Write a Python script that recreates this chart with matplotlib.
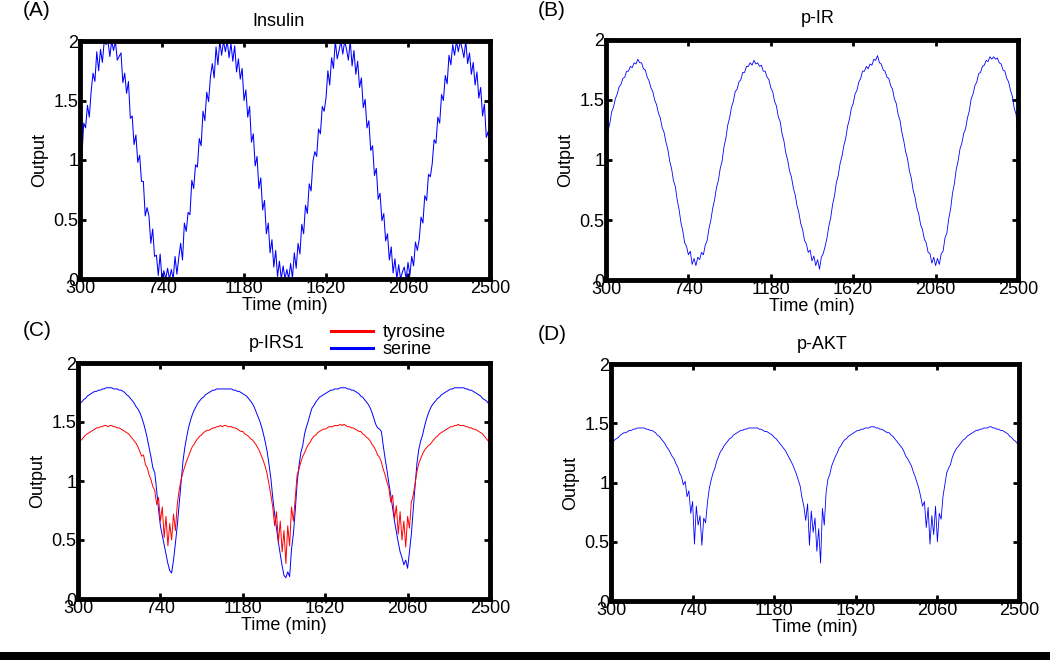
import numpy as np
import matplotlib
matplotlib.use('Agg')
import matplotlib.pyplot as plt
from matplotlib.patches import Rectangle

plt.rcParams['font.family'] = ['Liberation Sans', 'DejaVu Sans']

# simulated outputs, sampled every 10 min from 300 to 2500 min
insulin = [
    1.05, 1.02, 1.31, 1.27, 1.46, 1.36, 1.58, 1.73, 1.66, 1.91,
    1.75, 1.93, 1.82, 2.00, 1.97, 2.00, 1.87, 2.00, 1.92, 2.00,
    1.84, 1.87, 1.90, 1.65, 1.73, 1.56, 1.66, 1.35, 1.37, 1.13,
    1.21, 0.98, 1.04, 0.82, 0.82, 0.53, 0.60, 0.53, 0.30, 0.42,
    0.19, 0.20, 0.03, 0.21, 0.00, 0.07, 0.00, 0.09, 0.00, 0.08,
    0.00, 0.19, 0.04, 0.18, 0.30, 0.16, 0.47, 0.40, 0.56, 0.54,
    0.83, 0.76, 0.96,
    0.94, 1.18, 1.12, 1.41, 1.33, 1.57, 1.49, 1.70, 1.81, 1.69,
    1.95, 1.80, 2.00, 1.88, 2.00, 1.91, 2.00, 1.86, 1.98, 1.83,
    1.96, 1.74, 1.85, 1.68, 1.77, 1.50, 1.59, 1.36, 1.45, 1.15,
    1.22, 0.95, 1.03, 0.76, 0.85, 0.58, 0.66, 0.38, 0.47, 0.22,
    0.33, 0.10, 0.24, 0.02, 0.15, 0.00, 0.11, 0.00, 0.08, 0.00,
    0.13, 0.01, 0.22, 0.09, 0.30, 0.21, 0.46, 0.38, 0.62, 0.55,
    0.80, 0.74, 0.99,
    1.07, 1.03, 1.26, 1.22, 1.45, 1.41, 1.52, 1.75, 1.63, 1.86,
    1.77, 2.00, 1.85, 1.92, 2.00, 1.89, 2.00, 1.93, 1.84, 2.00,
    1.79, 1.92, 1.72, 1.83, 1.61, 1.69, 1.44, 1.51, 1.27, 1.33,
    1.08, 1.12, 0.87, 0.93, 0.67, 0.72, 0.49, 0.55, 0.32, 0.38,
    0.16, 0.27, 0.05, 0.17, 0.00, 0.12, 0.00, 0.06, 0.10, 0.00,
    0.14, 0.03, 0.19, 0.11, 0.31, 0.24, 0.33, 0.52, 0.47, 0.70,
    0.66, 0.88, 0.86,
    0.97, 1.17, 1.14, 1.36, 1.31, 1.55, 1.50, 1.71, 1.64, 1.88,
    1.80, 1.97, 1.88, 2.00, 1.91, 2.00, 1.94, 1.86, 2.00, 1.81,
    1.90, 1.72, 1.82, 1.63, 1.74, 1.52, 1.61, 1.37, 1.47, 1.19,
    1.24, 0.96,
]

p_ir = [
    1.18, 1.24, 1.30, 1.40, 1.44, 1.51, 1.55, 1.61, 1.63, 1.68,
    1.69, 1.74, 1.74, 1.78, 1.77, 1.81, 1.80, 1.84, 1.81, 1.81,
    1.76, 1.75, 1.69, 1.66, 1.60, 1.57, 1.50, 1.46, 1.39, 1.35,
    1.27, 1.23, 1.15, 1.09, 0.99, 0.93, 0.83, 0.78, 0.67, 0.59,
    0.48, 0.41, 0.31, 0.28, 0.21, 0.24, 0.13, 0.18, 0.12, 0.19,
    0.17, 0.23, 0.21, 0.29, 0.33, 0.43, 0.50, 0.60, 0.67, 0.77,
    0.83, 0.93, 0.99, 1.11, 1.18, 1.29, 1.35, 1.44, 1.49, 1.57,
    1.59, 1.65, 1.67, 1.73, 1.73, 1.78, 1.78, 1.81, 1.79, 1.83,
    1.80, 1.81, 1.78, 1.79, 1.74, 1.74, 1.69, 1.67, 1.60, 1.57,
    1.49, 1.45, 1.36, 1.32, 1.22, 1.16, 1.06, 1.00, 0.91, 0.86,
    0.77, 0.71, 0.62, 0.56, 0.47, 0.42, 0.33, 0.30, 0.23, 0.25,
    0.16, 0.20, 0.12, 0.17, 0.09, 0.19, 0.22, 0.28, 0.35, 0.45,
    0.52, 0.63, 0.70, 0.81, 0.87, 0.97, 1.03, 1.12, 1.18, 1.28,
    1.34, 1.43, 1.47, 1.55, 1.58, 1.65, 1.68, 1.74, 1.74, 1.78,
    1.76, 1.80, 1.79, 1.84, 1.83, 1.87, 1.81, 1.80, 1.75, 1.74,
    1.69, 1.68, 1.62, 1.59, 1.51, 1.47, 1.38, 1.33, 1.23, 1.16,
    1.07, 1.01, 0.91, 0.85, 0.75, 0.69, 0.60, 0.55, 0.46, 0.42,
    0.34, 0.31, 0.23, 0.22, 0.14, 0.19, 0.12, 0.18, 0.13, 0.22,
    0.24, 0.35, 0.39, 0.51, 0.59, 0.72, 0.80, 0.92, 0.99, 1.09,
    1.14, 1.22, 1.26, 1.35, 1.41, 1.51, 1.55, 1.62, 1.65, 1.72,
    1.73, 1.78, 1.79, 1.83, 1.82, 1.86, 1.84, 1.86, 1.84, 1.85,
    1.81, 1.80, 1.75, 1.74, 1.68, 1.65, 1.58, 1.53, 1.43, 1.38,
    1.17,
]

irs1_serine = [
    1.64, 1.66, 1.67, 1.69, 1.70, 1.72, 1.73, 1.74, 1.75, 1.76,
    1.76, 1.77, 1.77, 1.78, 1.78, 1.79, 1.79, 1.79, 1.79, 1.78,
    1.78, 1.78, 1.77, 1.77, 1.76, 1.75, 1.73, 1.72, 1.70, 1.68,
    1.66, 1.63, 1.61, 1.58, 1.54, 1.49, 1.43, 1.36, 1.28, 1.20,
    1.11, 1.07, 0.92, 0.76, 0.62, 0.54, 0.46, 0.38, 0.30, 0.24,
    0.22, 0.33, 0.47, 0.62, 0.80, 0.99, 1.16, 1.28, 1.37, 1.45,
    1.51, 1.56, 1.60, 1.63, 1.66, 1.68, 1.70, 1.71, 1.73, 1.74,
    1.75, 1.76, 1.77, 1.77, 1.78, 1.78, 1.78, 1.78, 1.78, 1.78,
    1.78, 1.78, 1.78, 1.77, 1.77, 1.76, 1.76, 1.75, 1.74, 1.73,
    1.72, 1.70, 1.68, 1.66, 1.63, 1.59, 1.55, 1.51, 1.46, 1.40,
    1.33, 1.25, 1.14, 1.02, 0.86, 0.72, 0.60, 0.48, 0.38, 0.28,
    0.20, 0.18, 0.23, 0.19, 0.42, 0.55, 0.75, 0.98, 1.13, 1.24,
    1.30, 1.40, 1.46, 1.51, 1.57, 1.62, 1.64, 1.67, 1.69, 1.71,
    1.72, 1.73, 1.74, 1.75, 1.76, 1.77, 1.77, 1.78, 1.78, 1.78,
    1.79, 1.79, 1.79, 1.79, 1.78, 1.78, 1.77, 1.77, 1.76, 1.75,
    1.74, 1.72, 1.71, 1.69, 1.67, 1.65, 1.62, 1.58, 1.53, 1.48,
    1.45, 1.44, 1.42, 1.30, 1.19, 1.09, 0.98, 0.88, 0.77, 0.66,
    0.57, 0.48, 0.40, 0.35, 0.29, 0.33, 0.26, 0.40, 0.55, 0.76,
    0.96, 1.15, 1.27, 1.34, 1.39, 1.46, 1.52, 1.57, 1.61, 1.64,
    1.66, 1.68, 1.70, 1.71, 1.73, 1.74, 1.75, 1.76, 1.77, 1.78,
    1.78, 1.79, 1.79, 1.79, 1.79, 1.79, 1.79, 1.78, 1.78, 1.77,
    1.77, 1.76, 1.75, 1.74, 1.73, 1.72, 1.70, 1.69, 1.68, 1.66,
    1.64,
]

irs1_tyrosine = [
    1.32, 1.34, 1.35, 1.37, 1.39, 1.40, 1.41, 1.42, 1.43, 1.44,
    1.45, 1.45, 1.46, 1.46, 1.47, 1.47, 1.46, 1.47, 1.47, 1.46,
    1.46, 1.45, 1.45, 1.44, 1.43, 1.42, 1.41, 1.40, 1.38, 1.36,
    1.34, 1.32, 1.29, 1.25, 1.21, 1.22, 1.14, 1.11, 1.05, 1.01,
    0.95, 0.92, 0.80, 0.86, 0.66, 0.78, 0.52, 0.70, 0.45, 0.64,
    0.50, 0.72, 0.58, 0.80, 0.92, 1.01, 1.07, 1.12, 1.17, 1.21,
    1.25, 1.29, 1.31, 1.34, 1.36, 1.38, 1.39, 1.41, 1.42, 1.43,
    1.43, 1.44, 1.45, 1.45, 1.46, 1.46, 1.47, 1.46, 1.47, 1.47,
    1.46, 1.46, 1.46, 1.45, 1.45, 1.44, 1.43, 1.42, 1.42, 1.40,
    1.39, 1.38, 1.36, 1.35, 1.33, 1.31, 1.28, 1.25, 1.21, 1.17,
    1.12, 1.06, 0.97, 0.88, 0.78, 0.62, 0.74, 0.48, 0.66, 0.40,
    0.58, 0.30, 0.62, 0.45, 0.78, 0.66, 0.85, 1.05, 1.10, 1.16,
    1.21, 1.24, 1.28, 1.31, 1.33, 1.36, 1.38, 1.39, 1.41, 1.42,
    1.43, 1.44, 1.44, 1.45, 1.46, 1.46, 1.46, 1.47, 1.47, 1.47,
    1.48, 1.47, 1.48, 1.47, 1.46, 1.46, 1.45, 1.45, 1.44, 1.43,
    1.42, 1.42, 1.40, 1.39, 1.37, 1.36, 1.34, 1.31, 1.29, 1.26,
    1.22, 1.20, 1.16, 1.10, 1.05, 0.99, 0.94, 0.82, 0.88, 0.68,
    0.79, 0.55, 0.74, 0.50, 0.66, 0.44, 0.70, 0.60, 0.82, 0.88,
    0.98, 1.08, 1.15, 1.19, 1.23, 1.26, 1.28, 1.30, 1.31, 1.33,
    1.35, 1.37, 1.38, 1.40, 1.41, 1.42, 1.43, 1.44, 1.45, 1.46,
    1.46, 1.47, 1.47, 1.48, 1.47, 1.47, 1.47, 1.46, 1.46, 1.45,
    1.45, 1.44, 1.44, 1.43, 1.42, 1.41, 1.40, 1.38, 1.36, 1.34,
    1.30,
]

p_akt = [
    1.32, 1.34, 1.36, 1.37, 1.38, 1.40, 1.41, 1.42, 1.42, 1.43,
    1.44, 1.44, 1.45, 1.45, 1.46, 1.46, 1.46, 1.46, 1.46, 1.45,
    1.45, 1.44, 1.44, 1.43, 1.42, 1.40, 1.39, 1.37, 1.35, 1.33,
    1.30, 1.28, 1.25, 1.22, 1.20, 1.16, 1.13, 1.08, 1.05, 0.98,
    1.01, 0.88, 0.93, 0.74, 0.84, 0.48, 0.80, 0.64, 0.72, 0.47,
    0.70, 0.66, 0.83, 0.95, 1.02, 1.08, 1.12, 1.18, 1.22, 1.26,
    1.28, 1.31, 1.33, 1.35, 1.37, 1.38, 1.40, 1.41, 1.42, 1.43,
    1.44, 1.44, 1.45, 1.45, 1.46, 1.46, 1.46, 1.46, 1.46, 1.46,
    1.45, 1.45, 1.44, 1.43, 1.43, 1.42, 1.41, 1.40, 1.38, 1.37,
    1.35, 1.33, 1.31, 1.29, 1.27, 1.24, 1.21, 1.18, 1.15, 1.11,
    1.07, 1.02, 0.97, 0.87, 0.80, 0.68, 0.82, 0.47, 0.76, 0.58,
    0.70, 0.42, 0.61, 0.32, 0.78, 0.64, 0.92, 1.03, 1.07, 1.14,
    1.18, 1.22, 1.25, 1.29, 1.31, 1.34, 1.36, 1.37, 1.39, 1.40,
    1.41, 1.42, 1.43, 1.44, 1.44, 1.45, 1.45, 1.46, 1.46, 1.46,
    1.47, 1.47, 1.47, 1.46, 1.46, 1.45, 1.45, 1.44, 1.43, 1.42,
    1.42, 1.40, 1.39, 1.37, 1.35, 1.33, 1.31, 1.29, 1.26, 1.22,
    1.20, 1.17, 1.14, 1.09, 1.05, 1.00, 0.95, 0.88, 0.80, 0.84,
    0.62, 0.79, 0.48, 0.72, 0.56, 0.80, 0.50, 0.74, 0.69, 0.88,
    0.98, 1.08, 1.12, 1.15, 1.21, 1.25, 1.28, 1.30, 1.32, 1.34,
    1.36, 1.37, 1.39, 1.40, 1.41, 1.42, 1.43, 1.44, 1.44, 1.45,
    1.45, 1.46, 1.46, 1.46, 1.47, 1.47, 1.46, 1.46, 1.45, 1.45,
    1.44, 1.44, 1.43, 1.42, 1.41, 1.39, 1.38, 1.36, 1.35, 1.33,
    1.31,
]

xticks = [300, 740, 1180, 1620, 2060, 2500]
yticks = [0, 0.5, 1, 1.5, 2]
ytick_labels = ['0', '0.5', '1', '1.5', '2']

FS = 13


def time_axis(vals):
    return np.linspace(300, 2500, len(vals))


def style_axes(ax, title, title_x, title_pad):
    ax.set_xlim(300, 2500)
    ax.set_ylim(0, 2)
    ax.set_xticks(xticks)
    ax.set_yticks(yticks)
    ax.set_yticklabels(ytick_labels)
    ax.tick_params(direction='in', length=4.5, width=2, top=True, right=True,
                   labelsize=FS, pad=1)
    for s in ax.spines.values():
        s.set_linewidth(3.5)
    ax.set_xlabel('Time (min)', fontsize=FS, labelpad=0)
    ax.set_ylabel('Output', fontsize=FS, labelpad=4)
    ax.set_title(title, fontsize=FS, x=title_x, pad=title_pad)


fig = plt.figure(figsize=(10.5, 6.6), dpi=100)

# (A) insulin input
axA = fig.add_axes([80 / 1050, 1 - 279 / 660, 410 / 1050, 238 / 660])
axA.plot(time_axis(insulin), insulin, color='#0000ff', lw=0.75)
style_axes(axA, 'Insulin', 0.483, 11)

# (B) p-IR
axB = fig.add_axes([606 / 1050, 1 - 280 / 660, 412 / 1050, 240 / 660])
axB.plot(time_axis(p_ir), p_ir, color='#0000ff', lw=0.6)
style_axes(axB, 'p-IR', 0.515, 12)

# (C) p-IRS1, serine drawn first, tyrosine on top
axC = fig.add_axes([78 / 1050, 1 - 599 / 660, 412 / 1050, 236 / 660])
l_ser, = axC.plot(time_axis(irs1_serine), irs1_serine, color='#0000ff', lw=0.7)
l_tyr, = axC.plot(time_axis(irs1_tyrosine), irs1_tyrosine, color='#ff0000', lw=0.7)
style_axes(axC, 'p-IRS1', 0.483, 11)
leg = axC.legend([l_tyr, l_ser], ['tyrosine', 'serine'], loc='upper left',
                 bbox_to_anchor=(331 / 1050, 1 - 324 / 660),
                 bbox_transform=fig.transFigure, frameon=False, borderpad=0,
                 borderaxespad=0, handlelength=2.3, handletextpad=0.55,
                 labelspacing=0.0, fontsize=FS)
for h in leg.legend_handles:
    h.set_linewidth(2.2)

# (D) p-AKT
axD = fig.add_axes([611 / 1050, 1 - 601 / 660, 408 / 1050, 237 / 660])
axD.plot(time_axis(p_akt), p_akt, color='#0000ff', lw=0.6)
style_axes(axD, 'p-AKT', 0.517, 11)

# panel letters
fig.text(23 / 1050, 1 - 11 / 660, '(A)', fontsize=15, va='center')
fig.text(538 / 1050, 1 - 11 / 660, '(B)', fontsize=15, va='center')
fig.text(23 / 1050, 1 - 330 / 660, '(C)', fontsize=15, va='center')
fig.text(538 / 1050, 1 - 334 / 660, '(D)', fontsize=15, va='center')

# black strip along the bottom edge
fig.add_artist(Rectangle((0, 0), 1, 8 / 660, transform=fig.transFigure,
                         facecolor='black', edgecolor='none'))

fig.savefig('out.png', dpi=100)
